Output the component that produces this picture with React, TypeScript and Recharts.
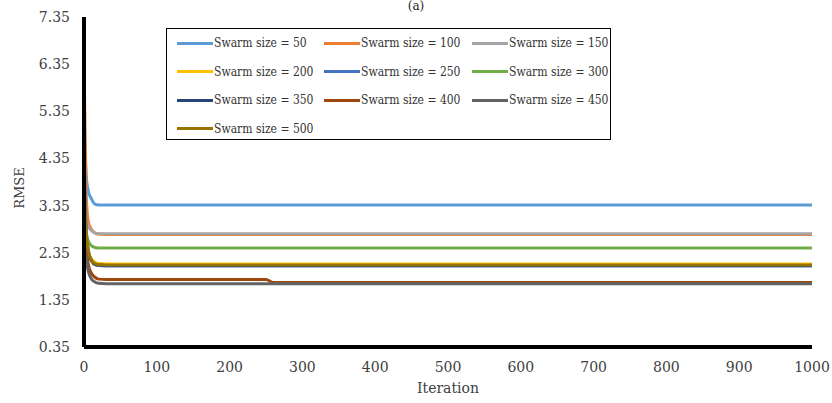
import { LineChart, Line, XAxis, YAxis, Legend, Label } from "recharts";

const iterations = [0, 3, 6, 10, 15, 20, 30, 250, 260, 1000];

const swarmSizes = [50, 100, 150, 200, 250, 300, 350, 400, 450, 500];
const swarm50 = [5.2, 4.0, 3.65, 3.5, 3.38, 3.36, 3.36, 3.36, 3.36, 3.36];
const swarm100 = [6.37, 3.6, 3.0, 2.85, 2.77, 2.745, 2.735, 2.735, 2.735, 2.735];
const swarm150 = [4.0, 3.1, 2.9, 2.82, 2.77, 2.75, 2.75, 2.75, 2.75, 2.75];
const swarm200 = [3.3, 2.6, 2.35, 2.22, 2.15, 2.12, 2.11, 2.11, 2.11, 2.11];
const swarm250 = [4.7, 2.9, 2.4, 2.2, 2.1, 2.08, 2.07, 2.07, 2.07, 2.07];
const swarm300 = [3.1, 2.75, 2.6, 2.5, 2.46, 2.45, 2.45, 2.45, 2.45, 2.45];
const swarm350 = [2.9, 2.5, 2.3, 2.18, 2.1, 2.09, 2.08, 2.08, 2.08, 2.08];
const swarm400 = [3.6, 2.5, 2.1, 1.92, 1.83, 1.79, 1.78, 1.78, 1.72, 1.72];
const swarm450 = [2.6, 2.2, 1.95, 1.8, 1.73, 1.7, 1.69, 1.69, 1.69, 1.69];
const swarm500 = [3.9, 2.8, 2.4, 2.2, 2.12, 2.1, 2.09, 2.09, 2.09, 2.09];

const seriesValues = [
  swarm50, swarm100, swarm150, swarm200, swarm250,
  swarm300, swarm350, swarm400, swarm450, swarm500,
];

const colors = [
  "#5B9BD5", "#ED7D31", "#A5A5A5", "#FFC000", "#4472C4",
  "#70AD47", "#264478", "#9E480E", "#636363", "#997300",
];

const xTicks = [0, 100, 200, 300, 400, 500, 600, 700, 800, 900, 1000];
const yTicks = [0.35, 1.35, 2.35, 3.35, 4.35, 5.35, 6.35, 7.35];

const data = iterations.map((it, i) => {
  const row: Record<string, number> = { iteration: it };
  swarmSizes.forEach((s, k) => {
    row["s" + s] = seriesValues[k][i];
  });
  return row;
});

const tickStyle = { fill: "#404040", fontSize: 14, fontFamily: "DejaVu Serif" };

function SwarmLegend() {
  return (
    <div
      style={{
        width: 445,
        height: 112,
        border: "1px solid #000",
        background: "#fff",
        boxSizing: "border-box",
        display: "grid",
        gridTemplateColumns: "147px 148px 148px",
        gridAutoRows: "28.5px",
        paddingLeft: 10,
        fontFamily: "'DejaVu Serif'",
        fontStretch: "condensed",
        fontSize: 12,
        color: "#333",
      }}
    >
      {swarmSizes.map((s, k) => (
        <div key={s} style={{ display: "flex", alignItems: "center" }}>
          <span style={{ display: "inline-block", width: 36, height: 3, background: colors[k] }} />
          <span style={{ marginLeft: 1, whiteSpace: "nowrap" }}>Swarm size = {s}</span>
        </div>
      ))}
    </div>
  );
}

export default function App() {
  return (
    <div style={{ position: "absolute", left: 0, top: 0, width: 832, height: 403, background: "#fff" }}>
      <div
        style={{
          position: "absolute",
          left: 0,
          width: 832,
          top: 0,
          textAlign: "center",
          fontFamily: "DejaVu Serif",
          fontSize: 12,
          lineHeight: "13px",
          color: "#222",
        }}
      >
        (a)
      </div>
      <LineChart width={832} height={403} data={data} margin={{ top: 17, right: 20, bottom: 0, left: 0 }}>
        <XAxis
          dataKey="iteration"
          type="number"
          domain={[0, 1000]}
          ticks={xTicks}
          tickLine={false}
          axisLine={{ stroke: "#000", strokeWidth: 4 }}
          tick={tickStyle}
          tickMargin={9}
          height={56}
        >
          <Label
            value="Iteration"
            position="insideBottom"
            offset={10}
            style={{ fill: "#404040", fontSize: 14, fontFamily: "DejaVu Serif" }}
          />
        </XAxis>
        <YAxis
          type="number"
          domain={[0.35, 7.35]}
          ticks={yTicks}
          allowDataOverflow
          tickFormatter={(v: number) => v.toFixed(2)}
          tickLine={false}
          axisLine={{ stroke: "#000", strokeWidth: 4 }}
          tick={tickStyle}
          tickMargin={8}
          width={84}
        >
          <Label
            content={() => (
              <text
                x={19}
                y={188}
                transform="rotate(-90 19 188)"
                textAnchor="middle"
                dominantBaseline="central"
                style={{ fill: "#404040", fontSize: 13, fontFamily: "DejaVu Serif" }}
              >
                RMSE
              </text>
            )}
          />
        </YAxis>
        <Legend
          layout="horizontal"
          align="center"
          verticalAlign="middle"
          wrapperStyle={{ left: 166, top: 28, width: 445, height: 112 }}
          content={() => <SwarmLegend />}
        />
        {swarmSizes.map((s, k) => (
          <Line
            key={s}
            type="monotone"
            dataKey={"s" + s}
            name={"Swarm size = " + s}
            stroke={colors[k]}
            strokeWidth={3}
            dot={false}
            isAnimationActive={false}
          />
        ))}
      </LineChart>
    </div>
  );
}
